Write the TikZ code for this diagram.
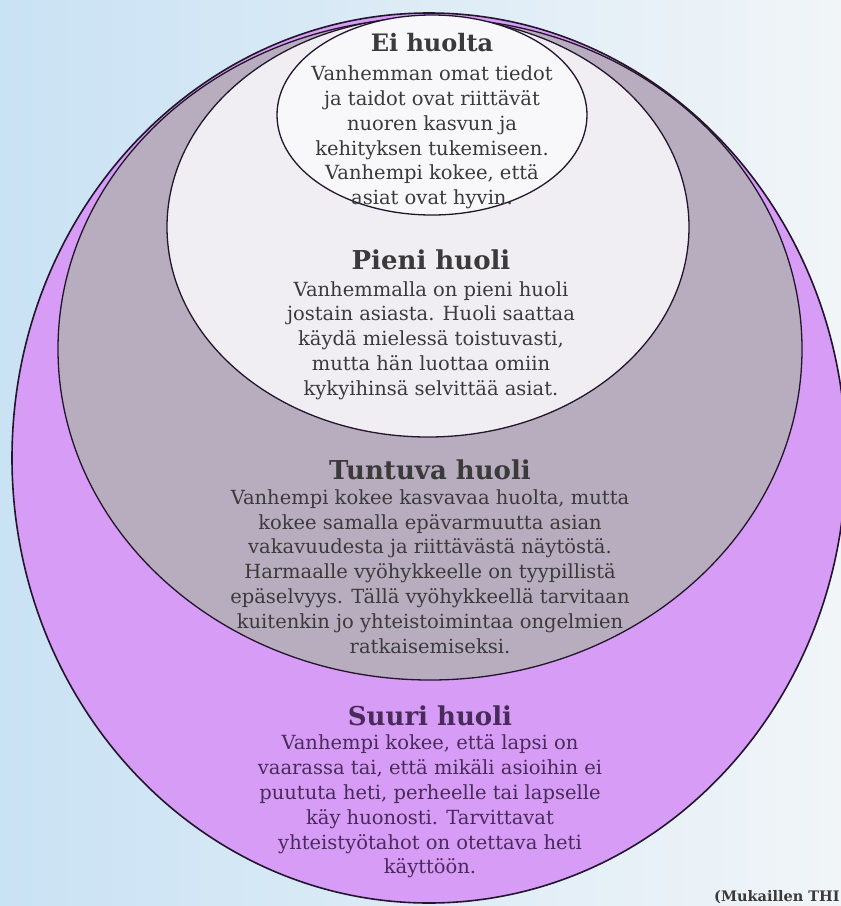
\documentclass[tikz,border=0pt]{standalone}
\usepackage{fontspec}
\setmainfont{DejaVu Serif}
\definecolor{bgL}{HTML}{C9E2F4}
\definecolor{bgR}{HTML}{F1F5F8}
\definecolor{purplefill}{HTML}{D79CF6}
\definecolor{greyfill}{HTML}{B8ADBF}
\definecolor{lightfill}{HTML}{F0EEF3}
\definecolor{whitefill}{HTML}{F8F7F9}
\definecolor{edge}{HTML}{22152C}
\definecolor{txt}{HTML}{3A3A3A}
\definecolor{txtp}{HTML}{482B5A}
\tikzset{
  zone/.style={draw=edge, line width=1.3pt},
  title/.style={inner sep=0pt, font=\fontsize{26}{30}\selectfont\bfseries},
  body/.style={inner sep=0pt, align=center, font=\fontsize{19.5}{24.8}\selectfont}
}
\begin{document}
\begin{tikzpicture}[x=1pt,y=-1pt]
\useasboundingbox (0,0) rectangle (841,906);
\shade[left color=bgL, right color=bgR] (0,0) rectangle (841,906);
% zones
\draw[zone, fill=purplefill, line width=1.6pt] (429,458) ellipse [x radius=417pt, y radius=445pt];
\draw[zone, fill=greyfill] (430,349) ellipse [x radius=372pt, y radius=331pt];
\draw[zone, fill=lightfill] (428,227) ellipse [x radius=261pt, y radius=210pt];
\draw[zone, fill=whitefill] (432,115) ellipse [x radius=155pt, y radius=100pt];
% texts
\node[title, text=txt, font=\fontsize{24}{28}\selectfont\bfseries] (t1) at (432,43) {Ei huolta};
\node[body, text=txt] (b1) at (432,137.5) {Vanhemman omat tiedot\\ja taidot ovat riittävät\\nuoren kasvun ja\\kehityksen tukemiseen.\\Vanhempi kokee, että\\asiat ovat hyvin.};
\node[title, text=txt] (t2) at (431,260) {Pieni huoli};
\node[body, text=txt] (b2) at (431,340.5) {Vanhemmalla on pieni huoli\\jostain asiasta. Huoli saattaa\\käydä mielessä toistuvasti,\\mutta hän luottaa omiin\\kykyihinsä selvittää asiat.};
\node[title, text=txt] (t3) at (430,470) {Tuntuva huoli};
\node[body, text=txt] (b3) at (430,571.5) {Vanhempi kokee kasvavaa huolta, mutta\\kokee samalla epävarmuutta asian\\vakavuudesta ja riittävästä näytöstä.\\Harmaalle vyöhykkeelle on tyypillistä\\epäselvyys. Tällä vyöhykkeellä tarvitaan\\kuitenkin jo yhteistoimintaa ongelmien\\ratkaisemiseksi.};
\node[title, text=txtp] (t4) at (430,716) {Suuri huoli};
\node[body, text=txtp] (b4) at (430,806.5) {Vanhempi kokee, että lapsi on\\vaarassa tai, että mikäli asioihin ei\\puututa heti, perheelle tai lapselle\\käy huonosti. Tarvittavat\\yhteistyötahot on otettava heti\\käyttöön.};
\node[inner sep=0pt, anchor=west, text=txt, font=\fontsize{14.5}{17}\selectfont\bfseries] (src) at (714,897) {(Mukaillen THI};
\end{tikzpicture}
\end{document}
